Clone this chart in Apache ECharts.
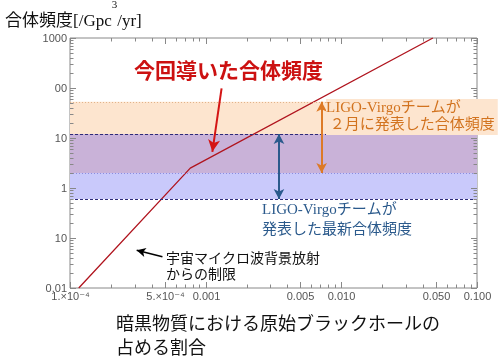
<!DOCTYPE html>
<html><head><meta charset="utf-8">
<script src="https://cdn.jsdelivr.net/npm/echarts@6/dist/echarts.min.js"></script>
<style>html,body{margin:0;padding:0;background:#fff}#c{width:500px;height:357px}</style>
</head><body><div id="c"></div>
<script>
// ---- axis ranges and ticks ----
const xMin = 1e-4, xMax = 0.1;
const yMin = 0.01, yMax = 1000;
const xMajorTicks = [1e-4, 5e-4, 1e-3, 5e-3, 1e-2, 5e-2, 1e-1];
const xTickLabels = ['1.×10⁻⁴', '5.×10⁻⁴', '0.001', '0.005', '0.010', '0.050', '0.100'];
const xMinorTicks = [2e-4, 3e-4, 4e-4, 6e-4, 7e-4, 8e-4, 9e-4,
                     2e-3, 3e-3, 4e-3, 6e-3, 7e-3, 8e-3, 9e-3,
                     2e-2, 3e-2, 4e-2, 6e-2, 7e-2, 8e-2, 9e-2];
const yMajorTicks = [0.01, 0.1, 1, 10, 100, 1000];
const yTickLabels = ['0.01', '10', '1', '10', '00', '1000'];
const yMinorTicks = [0.02, 0.03, 0.04, 0.05, 0.06, 0.07, 0.08, 0.09,
                     0.2, 0.3, 0.4, 0.5, 0.6, 0.7, 0.8, 0.9,
                     2, 3, 4, 5, 6, 7, 8, 9,
                     20, 30, 40, 50, 60, 70, 80, 90,
                     200, 300, 400, 500, 600, 700, 800, 900];
// ---- data ----
const mergerX = [1.16e-4, 7.7e-4, 0.0473];
const mergerY = [0.01, 2.5, 1000];
const cmbLimitX = 3e-4;
const ligoFebBand = [2, 53];
const ligoLatestBand = [0.6, 12];
// ---- annotation arrows (data coordinates) ----
const redArrow = [[1.31e-3, 98], [1.12e-3, 5.3]];
const orangeArrowX = 7.16e-3;
const blueArrowX = 3.47e-3;
const blackArrow = [[4.8e-4, 0.042], [3.1e-4, 0.057]];

const TICK = '#888';
const LABEL_FONT = "11px 'Liberation Sans','DejaVu Sans',sans-serif";
const SERIF_JP = "'Liberation Serif','Noto Sans CJK JP',serif";

function xTickItem(params, api) {
  const cs = params.coordSys;
  const px = Math.round(api.coord([api.value(0), yMin])[0]) + 0.5;
  const idx = api.value(1);
  const major = idx >= 0;
  const len = major ? 6 : 3.5;
  const b = cs.y + cs.height, t = cs.y;
  const ls = { stroke: TICK, lineWidth: 1 };
  const ch = [
    { type: 'line', shape: { x1: px, y1: b, x2: px, y2: b - len }, style: ls },
    { type: 'line', shape: { x1: px, y1: t, x2: px, y2: t + len }, style: ls }
  ];
  if (major) {
    ch.push({ type: 'text', x: px, y: b + 3, style: {
      text: xTickLabels[idx], font: LABEL_FONT, fill: '#555',
      align: 'center', verticalAlign: 'top', textAlign: 'center', textVerticalAlign: 'top' } });
  }
  return { type: 'group', children: ch };
}
function yTickItem(params, api) {
  const cs = params.coordSys;
  const py = Math.round(api.coord([xMin, api.value(1)])[1]) + 0.5;
  const idx = api.value(2);
  const major = idx >= 0;
  const len = major ? 6 : 3.5;
  const l = cs.x, r = cs.x + cs.width;
  const ls = { stroke: TICK, lineWidth: 1 };
  const ch = [
    { type: 'line', shape: { x1: l, y1: py, x2: l + len, y2: py }, style: ls },
    { type: 'line', shape: { x1: r, y1: py, x2: r - len, y2: py }, style: ls }
  ];
  if (major) {
    ch.push({ type: 'text', x: l - 3, y: py, style: {
      text: yTickLabels[idx], font: LABEL_FONT, fill: '#555',
      align: 'right', verticalAlign: 'middle', textAlign: 'right', textVerticalAlign: 'middle' } });
  }
  return { type: 'group', children: ch };
}

const chart = echarts.init(document.getElementById('c'), null, { renderer: 'canvas' });
chart.setOption({
  animation: false,
  backgroundColor: '#fff',
  grid: { left: 70, right: 23, top: 38, bottom: 69, show: true, borderColor: TICK, borderWidth: 1, backgroundColor: 'transparent' },
  xAxis: { type: 'log', logBase: 10, min: xMin, max: xMax,
    axisLine: { show: false }, axisTick: { show: false }, axisLabel: { show: false }, splitLine: { show: false } },
  yAxis: { type: 'log', logBase: 10, min: yMin, max: yMax,
    axisLine: { show: false }, axisTick: { show: false }, axisLabel: { show: false }, splitLine: { show: false } },
  series: [
    {
      type: 'line', name: 'merger', z: 3, silent: true,
      data: mergerX.map((x, i) => [x, mergerY[i]]),
      symbol: 'none',
      lineStyle: { color: '#b0141e', width: 1.3 },
      markArea: {
        silent: true,
        data: [
          [{ yAxis: ligoLatestBand[1], itemStyle: { color: '#fde5cf' } }, { yAxis: ligoFebBand[1] }],
          [{ yAxis: ligoFebBand[0], itemStyle: { color: '#c9b2d8' } }, { yAxis: ligoLatestBand[1] }],
          [{ yAxis: ligoLatestBand[0], itemStyle: { color: '#c9c9fb' } }, { yAxis: ligoFebBand[0] }]
        ]
      },
      markLine: {
        silent: true, symbol: 'none', symbolSize: [8, 10], label: { show: false },
        emphasis: { disabled: true },
        data: [
          { yAxis: ligoFebBand[1], lineStyle: { color: '#e2b38a', type: [1, 2], width: 1 } },
          { yAxis: ligoLatestBand[1], lineStyle: { color: '#2e2a78', type: [3, 2], width: 1 } },
          { yAxis: ligoFebBand[0], lineStyle: { color: '#8c8ce0', type: [1, 2], width: 1 } },
          { yAxis: ligoLatestBand[0], lineStyle: { color: '#2e2a78', type: [3, 2], width: 1 } },
          { xAxis: cmbLimitX, lineStyle: { color: '#000', type: 'solid', width: 1.5 } },
          [{ coord: redArrow[0], symbol: 'none', lineStyle: { color: '#d41515', width: 2, type: 'solid' } },
           { coord: redArrow[1], symbol: 'arrow', symbolSize: [9, 12] }],
          [{ coord: [orangeArrowX, ligoFebBand[0]], symbol: 'arrow', symbolSize: [8, 10], lineStyle: { color: '#dd7a26', width: 2, type: 'solid' } },
           { coord: [orangeArrowX, ligoFebBand[1]], symbol: 'arrow', symbolSize: [8, 10] }],
          [{ coord: [blueArrowX, ligoLatestBand[0]], symbol: 'arrow', symbolSize: [8, 10], lineStyle: { color: '#2b5a8c', width: 2, type: 'solid' } },
           { coord: [blueArrowX, ligoLatestBand[1]], symbol: 'arrow', symbolSize: [8, 10] }],
          [{ coord: blackArrow[0], symbol: 'none', lineStyle: { color: '#000', width: 1.5, type: 'solid' } },
           { coord: blackArrow[1], symbol: 'arrow', symbolSize: [7, 9] }]
        ]
      }
    },
    {
      type: 'custom', name: 'xticks', z: 6, silent: true,
      renderItem: xTickItem,
      encode: { x: 0, y: 2 },
      data: xMajorTicks.map((v, i) => [v, i, yMin]).concat(xMinorTicks.map(v => [v, -1, yMin]))
    },
    {
      type: 'custom', name: 'yticks', z: 6, silent: true,
      renderItem: yTickItem,
      encode: { x: 0, y: 1 },
      data: yMajorTicks.map((v, i) => [xMin, v, i]).concat(yMinorTicks.map(v => [xMin, v, -1]))
    }
  ],
  graphic: [
    { type: 'text', left: 5, top: 0, z: 10, style: {
      text: '{a|合体頻度[/Gpc}{s|3}{a|/yr]}',
      rich: {
        a: { fontSize: 17, lineHeight: 30, fontFamily: SERIF_JP, fill: '#111', color: '#111', verticalAlign: 'bottom' },
        s: { fontSize: 11, fontFamily: SERIF_JP, fill: '#111', color: '#111', verticalAlign: 'top' }
      } } },
    { type: 'text', left: 134, top: 60, z: 10, style: {
      text: '今回導いた合体頻度', font: "bold 21px 'Noto Sans CJK JP',sans-serif", fill: '#cc1111' } },
    { type: 'text', left: 326, top: 99, z: 10, style: {
      text: 'LIGO-Virgoチームが\n ２月に発表した合体頻度', fontSize: 15, fontFamily: SERIF_JP,
      lineHeight: 17, fill: '#d2731f', backgroundColor: '#fde5cf', padding: [1, 3, 1, 0] } },
    { type: 'text', left: 262, top: 200, z: 10, style: {
      text: 'LIGO-Virgoチームが\n発表した最新合体頻度', fontSize: 15, fontFamily: SERIF_JP,
      lineHeight: 20, fill: '#2b5a8c' } },
    { type: 'text', left: 166, top: 251, z: 10, style: {
      text: '宇宙マイクロ波背景放射\nからの制限', fontSize: 14, fontFamily: SERIF_JP,
      lineHeight: 16, fill: '#111' } },
    { type: 'text', left: 116, top: 313, z: 10, style: {
      text: '暗黒物質における原始ブラックホールの\n占める割合', fontSize: 18, fontFamily: SERIF_JP,
      lineHeight: 24, fill: '#111' } }
  ]
});
</script>
</body></html>
